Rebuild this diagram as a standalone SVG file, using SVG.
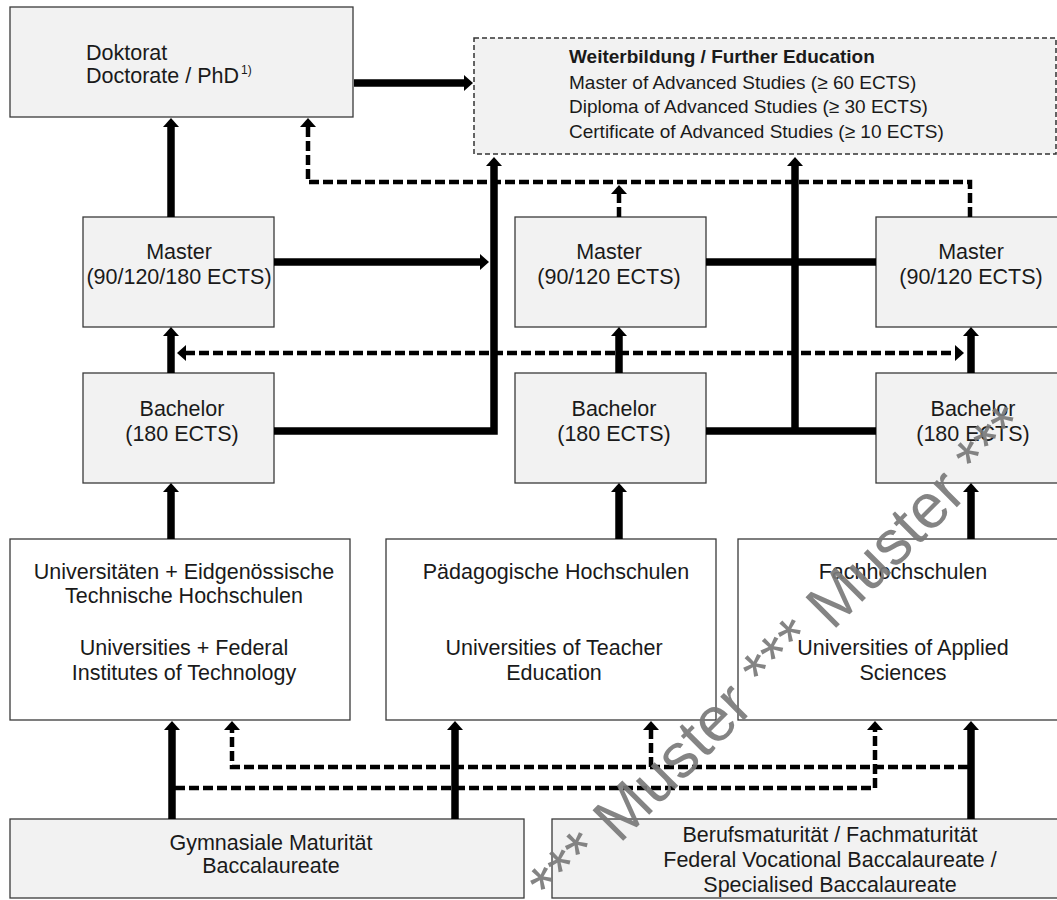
<svg xmlns="http://www.w3.org/2000/svg" width="1057" height="900" viewBox="0 0 1057 900">
<style>
text{font-family:"Liberation Sans",Arial,sans-serif;font-size:21.5px;fill:#1a1a1a}
.c{text-anchor:middle}
.wb{font-size:19px}
.box{fill:#f2f2f2;stroke:#3a3a3a;stroke-width:1.3}
.wbox{fill:#ffffff;stroke:#3a3a3a;stroke-width:1.3}
.dbox{fill:#f2f2f2;stroke:#333;stroke-width:1.5;stroke-dasharray:5 3}
.th{fill:none;stroke:#000;stroke-width:7.5}
.da{fill:none;stroke:#000;stroke-width:4.5;stroke-dasharray:10 4}
.wm{font-size:63px;fill:#7a7a7a;fill-opacity:0.92;text-anchor:middle}
</style>
<defs>
<marker id="ah" markerUnits="userSpaceOnUse" markerWidth="9" markerHeight="16" viewBox="0 0 9 16" refX="1" refY="8" orient="auto-start-reverse">
<path d="M0,0 L9,8 L0,16 Z" fill="#000"/>
</marker>
</defs>

<g id="doktorat">
<rect class="box" x="10" y="7" width="343" height="110"/>
<text x="86" y="60">Doktorat</text>
<text x="86" y="83">Doctorate / PhD<tspan font-size="12" dx="2" dy="-9">1)</tspan></text>
</g>

<g id="weiterbildung">
<rect class="dbox" x="474" y="38" width="582" height="116"/>
<text class="wb" x="569" y="63" font-weight="bold">Weiterbildung / Further Education</text>
<text class="wb" x="569" y="89">Master of Advanced Studies (≥ 60 ECTS)</text>
<text class="wb" x="569" y="113">Diploma of Advanced Studies (≥ 30 ECTS)</text>
<text class="wb" x="569" y="138">Certificate of Advanced Studies (≥ 10 ECTS)</text>
</g>

<g id="master-uni">
<rect class="box" x="83" y="217" width="191" height="110"/>
<text class="c" x="179" y="259">Master</text>
<text class="c" x="179" y="284">(90/120/180 ECTS)</text>
</g>
<g id="master-ph">
<rect class="box" x="515" y="217" width="191" height="110"/>
<text class="c" x="609" y="259">Master</text>
<text class="c" x="609" y="284">(90/120 ECTS)</text>
</g>
<g id="master-fh">
<rect class="box" x="876" y="217" width="200" height="110"/>
<text class="c" x="971" y="259">Master</text>
<text class="c" x="971" y="284">(90/120 ECTS)</text>
</g>

<g id="bachelor-uni">
<rect class="box" x="83" y="373" width="191" height="110"/>
<text class="c" x="182" y="416">Bachelor</text>
<text class="c" x="182" y="441">(180 ECTS)</text>
</g>
<g id="bachelor-ph">
<rect class="box" x="515" y="373" width="191" height="110"/>
<text class="c" x="614" y="416">Bachelor</text>
<text class="c" x="614" y="441">(180 ECTS)</text>
</g>
<g id="bachelor-fh">
<rect class="box" x="876" y="373" width="200" height="110"/>
<text class="c" x="973" y="416">Bachelor</text>
<text class="c" x="973" y="441">(180 ECTS)</text>
</g>

<g id="uni">
<rect class="wbox" x="10" y="539" width="340" height="181"/>
<text class="c" x="184" y="579">Universitäten + Eidgenössische</text>
<text class="c" x="184" y="603">Technische Hochschulen</text>
<text class="c" x="184" y="655">Universities + Federal</text>
<text class="c" x="184" y="680">Institutes of Technology</text>
</g>
<g id="ph">
<rect class="wbox" x="386" y="539" width="330" height="181"/>
<text class="c" x="556" y="579">Pädagogische Hochschulen</text>
<text class="c" x="554" y="655">Universities of Teacher</text>
<text class="c" x="554" y="680">Education</text>
</g>
<g id="fh">
<rect class="wbox" x="738" y="539" width="330" height="181"/>
<text class="c" x="903" y="579">Fachhochschulen</text>
<text class="c" x="903" y="655">Universities of Applied</text>
<text class="c" x="903" y="680">Sciences</text>
</g>

<g id="gymnasiale">
<rect class="box" x="10" y="819" width="514" height="79"/>
<text class="c" x="271" y="850">Gymnasiale Maturität</text>
<text class="c" x="271" y="873">Baccalaureate</text>
</g>
<g id="berufsmaturitaet">
<rect class="box" x="552" y="819" width="560" height="79"/>
<text class="c" x="830" y="842">Berufsmaturität / Fachmaturität</text>
<text class="c" x="830" y="867">Federal Vocational Baccalaureate /</text>
<text class="c" x="830" y="892">Specialised Baccalaureate</text>
</g>

<g id="connectors">
<path class="th" d="M354,83 H465" marker-end="url(#ah)"/>
<path class="th" d="M171,217 V126" marker-end="url(#ah)"/>
<path class="th" d="M274,262 H481" marker-end="url(#ah)"/>
<path class="th" d="M274,431 H494 V165" marker-end="url(#ah)"/>
<path class="th" d="M706,262 H876"/>
<path class="th" d="M706,431 H876"/>
<path class="th" d="M795,431 V165" marker-end="url(#ah)"/>
<path class="th" d="M171,373 V335" marker-end="url(#ah)"/>
<path class="th" d="M619,373 V335" marker-end="url(#ah)"/>
<path class="th" d="M971,373 V335" marker-end="url(#ah)"/>
<path class="th" d="M171,539 V491" marker-end="url(#ah)"/>
<path class="th" d="M619,539 V491" marker-end="url(#ah)"/>
<path class="th" d="M971,539 V491" marker-end="url(#ah)"/>
<path class="th" d="M172,819 V729" marker-end="url(#ah)"/>
<path class="th" d="M455,819 V729" marker-end="url(#ah)"/>
<path class="th" d="M971,819 V729" marker-end="url(#ah)"/>
<path class="da" d="M970,217 V182 H308 V126" marker-end="url(#ah)"/>
<path class="da" d="M619,217 V193" marker-end="url(#ah)"/>
<path class="da" d="M185,353 H956" marker-start="url(#ah)" marker-end="url(#ah)"/>
<path class="da" d="M968,767 H232 V729" marker-end="url(#ah)"/>
<path class="da" d="M651,767 V729" marker-end="url(#ah)"/>
<path class="da" d="M175,788 H875 V729" marker-end="url(#ah)"/>
</g>

<text class="wm" x="794" y="670" transform="rotate(-45 794 670)">*** Muster *** Muster ***</text>
</svg>
